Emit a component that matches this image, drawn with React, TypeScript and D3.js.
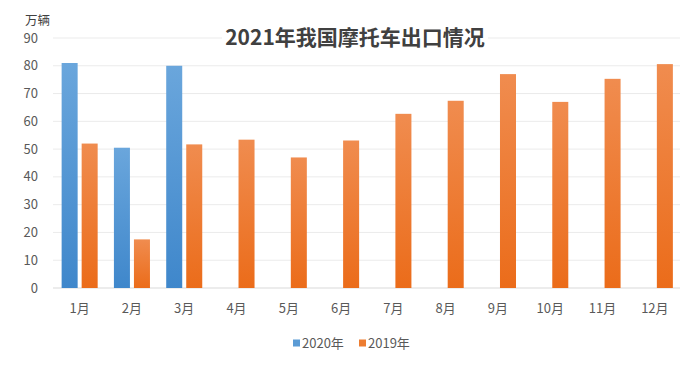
import React from 'react';
import * as d3 from 'd3';

// 2021年我国摩托车出口情况 (万辆)
const months = ['1月', '2月', '3月', '4月', '5月', '6月', '7月', '8月', '9月', '10月', '11月', '12月'];
const seriesNames = ['2020年', '2019年'];
const values2020: (number | null)[] = [81, 50.5, 80, null, null, null, null, null, null, null, null, null];
const values2019: (number | null)[] = [52, 17.5, 51.7, 53.4, 47, 53.1, 62.7, 67.4, 77, 67, 75.3, 80.6];
const yTicks = [0, 10, 20, 30, 40, 50, 60, 70, 80, 90];

const W = 691, H = 368;
const font = '"Microsoft YaHei", "Noto Sans CJK SC", "DejaVu Sans", sans-serif';

export default function App() {
  const x0 = d3.scaleBand().domain(months).range([53.5, 681]).paddingInner(0).paddingOuter(0);
  const x1 = d3.scaleBand().domain(seriesNames).range([0, x0.bandwidth()]).paddingInner(0.2).paddingOuter(0.406);
  const y = d3.scaleLinear().domain([0, 90]).range([288, 38]);

  const series = [
    { name: seriesNames[0], vals: values2020, grad: 'gBlue' },
    { name: seriesNames[1], vals: values2019, grad: 'gOrange' },
  ];

  return (
    <svg width={W} height={H} style={{ position: 'fixed', left: 0, top: 0, background: '#fff' }}>
      <defs>
        <linearGradient id="gBlue" x1="0" y1="0" x2="0" y2="1">
          <stop offset="0%" stopColor="#6aa6dc" />
          <stop offset="100%" stopColor="#3f87cb" />
        </linearGradient>
        <linearGradient id="gOrange" x1="0" y1="0" x2="0" y2="1">
          <stop offset="0%" stopColor="#f08c4f" />
          <stop offset="100%" stopColor="#eb6c1a" />
        </linearGradient>
      </defs>

      {/* gridlines */}
      {yTicks.map(t => (
        <line key={t} x1={53} x2={680} y1={y(t)} y2={y(t)} stroke={t === 0 ? '#d9d9d9' : '#ebebeb'} strokeWidth={1} />
      ))}

      {/* y tick labels */}
      {yTicks.map(t => (
        <text key={'l' + t} x={38} y={y(t)} dy="0.35em" textAnchor="end" fontSize={13} fill="#595959" fontFamily={font}>{t}</text>
      ))}
      <text x={25} y={25} fontSize={12.5} fill="#404040" fontFamily={font}>万辆</text>

      {/* bars */}
      {series.map(s => (
        <g key={s.name}>
          {months.map((m, i) => s.vals[i] == null ? null : (
            <rect key={m}
              x={(x0(m) as number) + (x1(s.name) as number)}
              y={y(s.vals[i] as number)}
              width={x1.bandwidth()}
              height={y(0) - y(s.vals[i] as number)}
              fill={`url(#${s.grad})`} />
          ))}
        </g>
      ))}

      {/* x labels */}
      {months.map(m => (
        <text key={m} x={(x0(m) as number) + x0.bandwidth() / 2} y={308} dy="0.35em" textAnchor="middle" fontSize={13} fill="#595959" fontFamily={font}>{m}</text>
      ))}

      {/* title */}
      <rect x={222} y={26} width={266} height={26} fill="#fff" />
      <text x={355} y={38} dy="0.35em" textAnchor="middle" fontSize={21} fontWeight="bold" fill="#404040" fontFamily={font}>2021年我国摩托车出口情况</text>

      {/* legend */}
      <rect x={293} y={339.5} width={7} height={7} fill="#5b9bd5" />
      <text x={302} y={343} dy="0.35em" fontSize={13} fill="#595959" fontFamily={font}>{seriesNames[0]}</text>
      <rect x={359} y={339.5} width={7} height={7} fill="#ed7d31" />
      <text x={368} y={343} dy="0.35em" fontSize={13} fill="#595959" fontFamily={font}>{seriesNames[1]}</text>
    </svg>
  );
}
